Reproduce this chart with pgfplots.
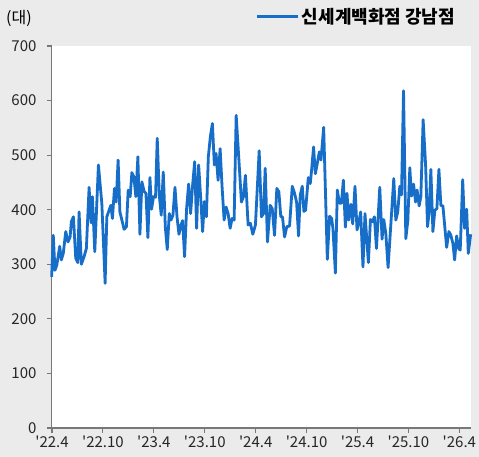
\documentclass[border=0pt]{standalone}
\usepackage{fontspec}
\setmainfont{Noto Sans CJK KR}
\usepackage{pgfplots}
\pgfplotsset{compat=1.18}
\usepackage{pgfplotstable}
\definecolor{bgc}{RGB}{235,235,235}
\definecolor{linec}{RGB}{22,110,200}
\definecolor{axc}{RGB}{120,120,120}
\pgfplotstableread{
m val
-0.04 277
0.15 353
0.35 289
0.56 298
0.91 333
1.10 308
1.33 320
1.62 360
1.89 341
2.13 350
2.28 378
2.52 387
2.80 311
3.04 303
3.19 396
3.46 300
3.78 314
4.05 329
4.37 441
4.61 376
4.76 424
5.04 323
5.47 482
5.87 412
6.26 265
6.46 387
6.93 408
7.12 384
7.36 439
7.56 414
7.79 491
8.00 396
8.50 364
8.77 369
8.98 436
9.21 424
9.41 468
9.65 460
9.88 424
10.12 497
10.36 355
10.59 451
10.87 433
11.07 430
11.30 349
11.54 459
11.73 401
11.96 424
12.20 423
12.40 531
12.64 427
12.87 390
13.11 469
13.35 369
13.58 327
13.82 393
14.02 381
14.25 390
14.49 441
14.73 387
14.96 355
15.20 372
15.39 380
15.62 314
15.86 402
16.10 447
16.33 393
16.57 445
16.81 488
17.04 366
17.28 482
17.51 424
17.75 360
17.95 415
18.19 387
18.42 497
18.66 534
18.90 558
19.13 482
19.33 503
19.57 454
19.81 512
20.04 442
20.28 381
20.51 405
20.75 393
20.99 366
21.22 384
21.46 381
21.70 573
22.00 497
22.32 414
22.56 424
22.79 463
23.11 372
23.38 375
23.66 355
23.97 372
24.41 508
24.68 387
24.92 393
25.12 476
25.39 341
25.71 408
25.95 402
26.22 353
26.49 439
26.73 433
26.96 387
27.16 387
27.40 350
27.67 369
27.99 370
28.31 443
28.58 430
28.82 414
29.05 352
29.25 427
29.49 443
29.68 397
29.88 399
30.20 459
30.43 448
30.59 473
30.82 515
31.03 466
31.26 485
31.50 506
31.69 491
32.01 551
32.44 309
32.71 388
32.95 384
33.10 366
33.39 284
33.62 436
33.86 412
34.10 412
34.33 454
34.57 368
34.76 430
34.96 381
35.23 410
35.43 374
35.70 443
35.94 363
36.17 378
36.37 396
36.64 295
36.88 393
37.28 303
37.52 382
37.76 378
37.99 387
38.23 329
38.62 441
38.89 346
39.09 382
39.33 357
39.60 294
40.27 457
40.51 381
40.74 396
40.98 443
41.18 427
41.42 618
41.69 347
41.93 381
42.16 477
42.36 425
42.60 447
42.84 414
43.02 436
43.26 407
43.46 424
43.73 565
44.02 482
44.25 369
44.44 396
44.64 474
44.88 360
45.11 399
45.35 402
45.59 474
45.82 408
46.06 407
46.50 331
46.77 360
47.00 353
47.24 338
47.44 308
47.68 352
47.91 329
48.10 326
48.39 455
48.62 366
48.86 401
49.05 320
49.33 355
}\datatable
\begin{document}
\begin{tikzpicture}[font=\fontsize{15}{18}\selectfont]
\fill[bgc] (-52pt,-29pt) rectangle (427pt,428pt);
\useasboundingbox (-52pt,-29pt) rectangle (427pt,428pt);
\begin{axis}[
  at={(0pt,0pt)}, anchor=origin,
  scale only axis, width=419pt, height=382pt,
  xmin=-0.04, xmax=49.33, ymin=0, ymax=700,
  axis background/.style={fill=white},
  axis x line*=bottom, axis y line*=left,
  axis line style={axc, line width=1.3pt},
  every tick/.style={axc, line width=1.1pt},
  tick align=outside, major tick length=5pt,
  xtick={0,6,12,18,24,30,36,42,48},
  xticklabels={\textquotesingle22.4,\textquotesingle22.10,\textquotesingle23.4,\textquotesingle23.10,\textquotesingle24.4,\textquotesingle24.10,\textquotesingle25.4,\textquotesingle25.10,\textquotesingle26.4},
  ytick={0,100,...,700},
  /pgf/number format/assume math mode=true,
  yticklabel style={anchor=east, xshift=-10pt, inner sep=0pt},
  xticklabel style={anchor=north, yshift=-3pt, inner sep=0pt},
  tick label style={font=\fontsize{15}{18}\selectfont, text=black!85},
  legend style={at={(0.487,1.076)}, anchor=west, draw=none, fill=none, inner sep=0pt,
    font=\fontsize{18}{21}\selectfont\bfseries},
  legend image code/.code={\draw[#1, line width=3pt] (0pt,0pt) -- (41pt,0pt);},
  clip=false,
]
\addplot[linec, line width=2.8pt, line join=round] table[x=m, y=val] {\datatable};
\addlegendentry{신세계백화점 강남점}
\end{axis}
\node[anchor=west, inner sep=0pt, font=\fontsize{16}{19}\selectfont] at (-46pt,410pt) {(대)};
\end{tikzpicture}
\end{document}
